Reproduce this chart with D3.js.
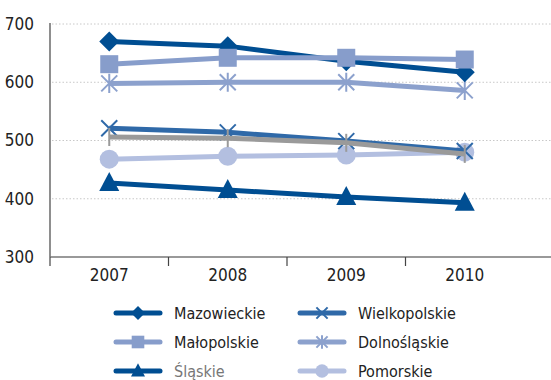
<!DOCTYPE html>
<html><head><meta charset="utf-8">
<script src="https://cdn.jsdelivr.net/npm/d3@7"></script>
<style>body{margin:0;background:#fff}svg{display:block}text{font-family:"Liberation Sans Narrow","DejaVu Sans Condensed","Roboto",sans-serif}</style>
</head><body>
<script>
const years = ["2007", "2008", "2009", "2010"];
const yTicks = [300, 400, 500, 600, 700];
const mazowieckie = [670, 662, 636, 617];
const malopolskie = [631, 642, 642, 639];
const slaskie = [427, 415, 403, 393];
const wielkopolskie = [521, 514, 499, 482];
const dolnoslaskie = [598, 600, 600, 586];
const pomorskie = [468, 473, 475, 480];
const polska = [506, 504, 496, 477];

// drawing order: first entries are painted underneath
const series = [
  {name: "Pomorskie", values: pomorskie, color: "#b3bfe0", marker: "circle", legend: [1, 2]},
  {name: "Wielkopolskie", values: wielkopolskie, color: "#2f69a8", marker: "x", legend: [1, 0]},
  {name: "Polska", values: polska, color: "#9a9a9a", marker: "plus", legend: null},
  {name: "Dolnośląskie", values: dolnoslaskie, color: "#8ca1cd", marker: "star", legend: [1, 1]},
  {name: "Śląskie", values: slaskie, color: "#004e92", marker: "triangle", legend: [0, 2]},
  {name: "Mazowieckie", values: mazowieckie, color: "#004e92", marker: "diamond", legend: [0, 0]},
  {name: "Małopolskie", values: malopolskie, color: "#879dcb", marker: "square", legend: [0, 1]}
];

const W = 551, H = 380;
const svg = d3.select("body").append("svg").attr("width", W).attr("height", H);
const x = d3.scaleBand().domain(years).range([50, 524]);
const y = d3.scaleLinear().domain([300, 700]).range([257, 24]);

// gridlines
svg.append("g").selectAll("line").data(yTicks.slice(1)).join("line")
  .attr("x1", 52).attr("x2", W).attr("y1", d => y(d)).attr("y2", d => y(d))
  .attr("stroke", "#c8c8c8").attr("stroke-width", 1).attr("stroke-dasharray", "1.5,2");

// y axis
const ya = svg.append("g").attr("transform", "translate(50,0)")
  .call(d3.axisLeft(y).tickValues(yTicks).tickSize(0).tickPadding(16));
ya.select(".domain").attr("stroke", "#444").attr("stroke-width", 1.2).attr("d", `M0,${y(700)-1}V${y(300)}`);
ya.selectAll("text").attr("font-size", 17).attr("fill", "#222");

// x axis
const xa = svg.append("g").attr("transform", `translate(0,${y(300)})`)
  .call(d3.axisBottom(x).tickSize(0).tickPadding(12));
xa.select(".domain").attr("stroke", "#777").attr("stroke-width", 1.5).attr("d", `M50,0H${W}`);
xa.selectAll("text").attr("font-size", 17).attr("fill", "#222");
svg.append("g").selectAll("line").data([50, ...years.slice(1).map(d => x(d))]).join("line")
  .attr("x1", d => d).attr("x2", d => d).attr("y1", y(300)).attr("y2", y(300) + 9)
  .attr("stroke", "#444").attr("stroke-width", 1.2);

function drawMarker(g, type, color, cx, cy, s) {
  s = s || 1;
  if (type === "diamond") {
    const r = 10 * s;
    g.append("path").attr("d", `M${cx},${cy-r}L${cx+r},${cy}L${cx},${cy+r}L${cx-r},${cy}Z`).attr("fill", color);
  } else if (type === "square") {
    const r = 9 * s;
    g.append("rect").attr("x", cx - r).attr("y", cy - r).attr("width", 2 * r).attr("height", 2 * r).attr("fill", color);
  } else if (type === "triangle") {
    const r = 10 * s;
    g.append("path").attr("d", `M${cx},${cy-r*1.1}L${cx+r},${cy+r*0.8}L${cx-r},${cy+r*0.8}Z`).attr("fill", color);
  } else if (type === "circle") {
    g.append("circle").attr("cx", cx).attr("cy", cy).attr("r", 9.5 * s).attr("fill", color);
  } else if (type === "x") {
    const r = 8 * s;
    g.append("path").attr("d", `M${cx-r},${cy-r}L${cx+r},${cy+r}M${cx-r},${cy+r}L${cx+r},${cy-r}`)
      .attr("stroke", color).attr("stroke-width", 2);
  } else if (type === "star") {
    const r = 8 * s;
    g.append("path").attr("d", `M${cx-r},${cy-r}L${cx+r},${cy+r}M${cx-r},${cy+r}L${cx+r},${cy-r}M${cx},${cy-r*1.2}V${cy+r*1.2}`)
      .attr("stroke", color).attr("stroke-width", 2);
  } else if (type === "plus") {
    const r = 9 * s;
    g.append("path").attr("d", `M${cx},${cy-r}V${cy+r}`)
      .attr("stroke", color).attr("stroke-width", 2);
  }
}

const line = d3.line().x((d, i) => x(years[i]) + x.bandwidth() / 2).y(d => y(d));
series.forEach(s => {
  const g = svg.append("g");
  g.append("path").attr("d", line(s.values)).attr("fill", "none")
    .attr("stroke", s.color).attr("stroke-width", 5);
  s.values.forEach((v, i) => drawMarker(g, s.marker, s.color, x(years[i]) + x.bandwidth() / 2, y(v)));
});

// legend
const lg = svg.append("g");
series.filter(s => s.legend).forEach(s => {
  const lx = s.legend[0] === 0 ? 116 : 300;
  const ly = 313 + s.legend[1] * 29;
  lg.append("line").attr("x1", lx).attr("x2", lx + 44).attr("y1", ly).attr("y2", ly)
    .attr("stroke", s.color).attr("stroke-width", 5).attr("stroke-linecap", "round");
  drawMarker(lg, s.marker, s.color, lx + 22, ly, 0.7);
  lg.append("text").attr("x", lx + 58).attr("y", ly).attr("dy", "0.35em")
    .attr("font-size", 16).attr("fill", s.name === "Śląskie" ? "#777" : "#222").text(s.name);
});
</script>
</body></html>
